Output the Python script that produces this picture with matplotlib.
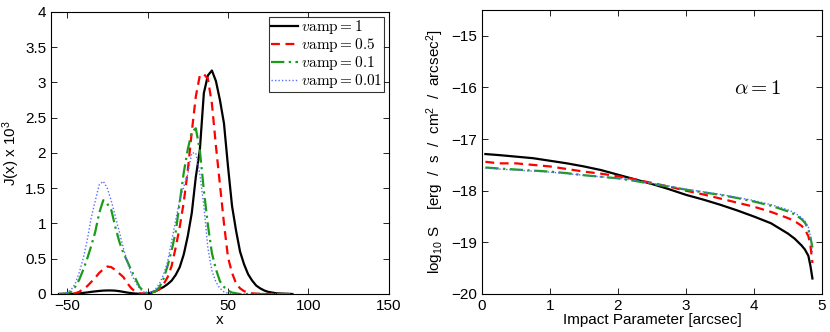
import numpy as np
import matplotlib
matplotlib.use("Agg")
import matplotlib.pyplot as plt
from matplotlib.font_manager import FontProperties

plt.rcParams["font.family"] = ["Liberation Sans", "DejaVu Sans"]
plt.rcParams["mathtext.fontset"] = "custom"
plt.rcParams["mathtext.rm"] = "Liberation Sans"
plt.rcParams["mathtext.it"] = "Liberation Sans:italic"

# ---- left panel: J(x) profiles ----
x_left = [-55, -50, -47.5, -45, -42.5, -40, -37.5, -35, -32.5, -30, -27.5, -25, -22.5, -20,
          -17.5, -15, -12.5, -10, -7.5, -5, -2.5, 0, 2.5, 5, 7.5, 10, 12.5, 15, 17.5,
          20, 22.5, 25, 27.5, 30, 32.5, 35, 37.5, 40, 42.5, 45, 47.5, 50, 52.5, 55,
          57.5, 60, 62.5, 65, 67.5, 70, 72.5, 75, 77.5, 80, 85, 90]

j_amp1 = [0, 0, 0, 0.003, 0.008, 0.015, 0.022, 0.03, 0.037, 0.043, 0.048, 0.05, 0.05, 0.047,
          0.04, 0.03, 0.02, 0.012, 0.006, 0.003, 0.003, 0.01, 0.02, 0.04, 0.07, 0.1, 0.14, 0.19, 0.27,
          0.38, 0.56, 0.82, 1.15, 1.66, 2.04, 2.85, 3.1, 3.17, 3.02, 2.75, 2.42, 1.81, 1.25, 0.9,
          0.6, 0.42, 0.28, 0.19, 0.12, 0.08, 0.05, 0.03, 0.02, 0.01, 0.004, 0]

j_amp05 = [0, 0, 0, 0.01, 0.03, 0.07, 0.11, 0.17, 0.23, 0.3, 0.35, 0.39, 0.38, 0.34,
           0.29, 0.24, 0.15, 0.08, 0.03, 0.01, 0.005, 0.01, 0.02, 0.04, 0.07, 0.14, 0.24, 0.4, 0.66,
           0.95, 1.3, 1.75, 2.3, 2.8, 3.1, 3.12, 3.05, 2.7, 2.1, 1.55, 1.0, 0.52, 0.3, 0.15,
           0.08, 0.04, 0.02, 0.01, 0.005, 0.003, 0.002, 0.001, 0, 0, 0, 0]

j_amp01 = [0, 0.01, 0.03, 0.1, 0.2, 0.34, 0.5, 0.68, 0.88, 1.15, 1.33, 1.28, 1.19, 0.95,
           0.74, 0.58, 0.46, 0.33, 0.22, 0.1, 0.04, 0.01, 0.02, 0.04, 0.1, 0.22, 0.4, 0.62, 0.88,
           1.3, 1.72, 2.05, 2.3, 2.35, 2.04, 1.47, 0.98, 0.58, 0.35, 0.18, 0.1, 0.05, 0.02, 0.01,
           0, 0, 0, 0, 0, 0, 0, 0, 0, 0, 0, 0]

j_amp001 = [0, 0.02, 0.06, 0.14, 0.3, 0.5, 0.76, 1.08, 1.32, 1.55, 1.6, 1.5, 1.32, 1.1,
            0.88, 0.65, 0.45, 0.28, 0.17, 0.08, 0.03, 0.01, 0.03, 0.07, 0.15, 0.28, 0.46, 0.75, 1.05,
            1.33, 1.52, 1.7, 2.0, 2.0, 1.7, 1.25, 0.65, 0.33, 0.17, 0.08, 0.03, 0.01, 0, 0,
            0, 0, 0, 0, 0, 0, 0, 0, 0, 0, 0, 0]

# ---- right panel: surface brightness ----
b = [0.05, 0.25, 0.5, 0.75, 1, 1.25, 1.5, 1.75, 2, 2.25, 2.5, 2.75, 3, 3.25, 3.5,
     3.75, 4, 4.25, 4.5, 4.6, 4.7, 4.75, 4.8, 4.83, 4.86]

s_amp1 = [-17.29, -17.31, -17.34, -17.37, -17.42, -17.47, -17.53, -17.60, -17.69, -17.78,
          -17.87, -17.97, -18.08, -18.17, -18.27, -18.38, -18.50, -18.63, -18.83, -18.93,
          -19.06, -19.14, -19.26, -19.45, -19.70]
s_amp05 = [-17.44, -17.47, -17.47, -17.50, -17.53, -17.58, -17.63, -17.67, -17.72, -17.78,
           -17.85, -17.92, -18.00, -18.07, -18.15, -18.23, -18.31, -18.41, -18.53, -18.59,
           -18.68, -18.75, -18.88, -19.05, -19.40]
s_amp01 = [-17.55, -17.57, -17.59, -17.61, -17.63, -17.66, -17.70, -17.73, -17.76, -17.81,
           -17.87, -17.92, -17.98, -18.03, -18.08, -18.14, -18.21, -18.29, -18.40, -18.46,
           -18.55, -18.62, -18.74, -18.90, -19.10]
s_amp001 = [-17.56, -17.58, -17.60, -17.62, -17.64, -17.67, -17.70, -17.73, -17.76, -17.80,
            -17.86, -17.91, -17.97, -18.02, -18.07, -18.13, -18.19, -18.27, -18.37, -18.43,
            -18.52, -18.59, -18.70, -18.88, -19.20]

labels = [r"$v\mathrm{amp} = 1$", r"$v\mathrm{amp} = 0.5$",
          r"$v\mathrm{amp} = 0.1$", r"$v\mathrm{amp} = 0.01$"]
styles = [dict(color="black", ls="-", lw=1.6),
          dict(color="#ff0000", ls=(0, (4, 2.5)), lw=1.6),
          dict(color="#1a9c1a", ls=(0, (6, 2, 1, 2)), lw=1.6),
          dict(color="#5b6cff", ls=(0, (1, 1.5)), lw=1.0)]


def style_axes(ax):
    ax.tick_params(direction="in", top=True, right=True, labelsize=11, length=4, width=0.6)
    for sp in ax.spines.values():
        sp.set_linewidth(0.8)


fig = plt.figure(figsize=(8.3, 3.32), dpi=100)
ax1 = fig.add_axes([0.0614, 0.1145, 0.4072, 0.8494])
ax2 = fig.add_axes([0.5807, 0.1145, 0.4096, 0.8554])

for y, lab, st in zip([j_amp1, j_amp05, j_amp01, j_amp001], labels, styles):
    ax1.plot(x_left, y, label=lab, **st)
ax1.set_xlim(-60, 150)
ax1.set_ylim(0, 4)
ax1.set_xticks([-50, 0, 50, 100, 150])
ax1.set_yticks([0, 0.5, 1, 1.5, 2, 2.5, 3, 3.5, 4])
ax1.set_yticklabels(["0", "0.5", "1", "1.5", "2", "2.5", "3", "3.5", "4"])
ax1.set_xticklabels(["\u221250", "0", "50", "100", "150"])
ax1.set_xlabel("x", fontsize=11, labelpad=0)
ax1.set_ylabel(r"J(x) x 10$^3$", fontsize=11, labelpad=2)
style_axes(ax1)
leg_font = FontProperties(size=11, math_fontfamily="cm")
leg = ax1.legend(loc="upper right", prop=leg_font, frameon=True, fancybox=False,
                 borderaxespad=0.3, handlelength=1.75, handletextpad=0.2,
                 labelspacing=0.0, borderpad=0.12)
leg.get_frame().set_edgecolor("black")
leg.get_frame().set_linewidth(0.8)

for y, st in zip([s_amp1, s_amp05, s_amp01, s_amp001], styles):
    ax2.plot(b, y, **st)
ax2.set_xlim(0, 5)
ax2.set_ylim(-20, -14.5)
ax2.set_xticks([0, 1, 2, 3, 4, 5])
ax2.set_yticks([-20, -19, -18, -17, -16, -15])
ax2.set_yticklabels(["\u221220", "\u221219", "\u221218", "\u221217", "\u221216", "\u221215"])
ax2.set_xlabel("Impact Parameter [arcsec]", fontsize=11, labelpad=0)
ax2.set_ylabel(r"log$_{10}$ S    [erg  /  s  /  cm$^2$  /  arcsec$^2$]", fontsize=11, labelpad=4)
ax2.text(3.7, -16.03, r"$\alpha = 1$", fontsize=15, va="center", ha="left",
         math_fontfamily="cm")
style_axes(ax2)

fig.savefig("out.png", dpi=100)
